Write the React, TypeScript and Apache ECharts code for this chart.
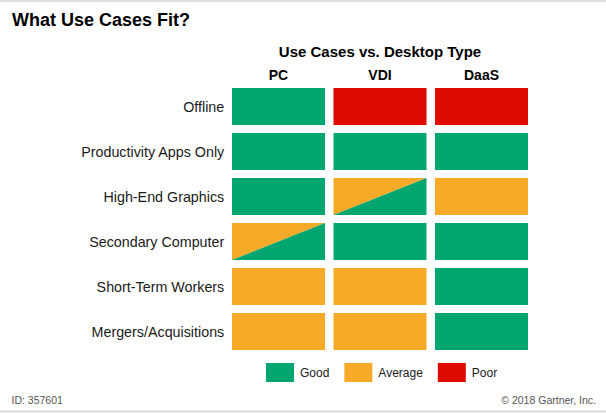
import React, { useEffect, useRef } from "react";
import * as echarts from "echarts";

// Desktop types (columns) and use cases (rows)
const desktopTypes = ["PC", "VDI", "DaaS"];
const useCases = [
  "Offline",
  "Productivity Apps Only",
  "High-End Graphics",
  "Secondary Computer",
  "Short-Term Workers",
  "Mergers/Acquisitions",
];

// Fit rating per use case, one list per desktop type ("Average/Good" = split cell)
const pcFit = ["Good", "Good", "Good", "Average/Good", "Average", "Average"];
const vdiFit = ["Poor", "Good", "Average/Good", "Good", "Average", "Average"];
const daasFit = ["Poor", "Good", "Average", "Good", "Good", "Good"];

const ratingLevels = ["Good", "Average", "Poor"];
const ratingColors: Record<string, string> = {
  Good: "#00a66f",
  Average: "#f6aa28",
  Poor: "#df0a00",
};

const FONT = "Arial, 'Liberation Sans', sans-serif";

export default function App() {
  const ref = useRef<HTMLDivElement>(null);

  useEffect(() => {
    if (!ref.current) return;
    const chart = echarts.init(ref.current, null, { renderer: "svg" });

    const fitByColumn = [pcFit, vdiFit, daasFit];
    const cells: { value: [number, number]; fit: string }[] = [];
    fitByColumn.forEach((col, c) => {
      col.forEach((fit, r) => cells.push({ value: [c, r], fit }));
    });

    const GAP_X = 8.5;
    const GAP_Y = 8;

    chart.setOption({
      animation: false,
      backgroundColor: "#ffffff",
      textStyle: { fontFamily: FONT },
      grid: { left: 227.75, top: 84, width: 304.5, height: 270 },
      xAxis: {
        type: "category",
        position: "top",
        data: desktopTypes,
        axisLine: { show: false },
        axisTick: { show: false },
        splitLine: { show: false },
        axisLabel: {
          margin: 9.5,
          verticalAlign: "middle",
          fontSize: 14,
          fontWeight: "bold",
          color: "#000",
        },
      },
      yAxis: {
        type: "category",
        inverse: true,
        data: useCases,
        axisLine: { show: false },
        axisTick: { show: false },
        splitLine: { show: false },
        axisLabel: { margin: 3.5, fontSize: 14.3, color: "#1a1a1a" },
      },
      legend: {
        left: 266,
        top: 363,
        padding: 0,
        itemWidth: 28,
        itemHeight: 19,
        itemGap: 15,
        icon: "rect",
        selectedMode: false,
        data: ratingLevels,
        textStyle: { fontSize: 12, color: "#1a1a1a", padding: [0, 0, 0, 1] },
      },
      graphic: [
        {
          type: "line",
          shape: { x1: 0, y1: 1, x2: 606, y2: 1 },
          style: { stroke: "#dcdcdc", lineWidth: 2 },
        },
        {
          type: "line",
          shape: { x1: 0, y1: 411.5, x2: 606, y2: 411.5 },
          style: { stroke: "#dcdcdc", lineWidth: 2 },
        },
        {
          type: "text",
          x: 12,
          y: 20,
          style: {
            text: "What Use Cases Fit?",
            font: `bold 18px ${FONT}`,
            fill: "#000",
            verticalAlign: "middle",
            align: "left",
          },
        },
        {
          type: "text",
          x: 380,
          y: 51,
          style: {
            text: "Use Cases vs. Desktop Type",
            font: `bold 15px ${FONT}`,
            fill: "#000",
            verticalAlign: "middle",
            align: "center",
          },
        },
        {
          type: "text",
          x: 11.5,
          y: 400,
          style: {
            text: "ID: 357601",
            font: `10.5px ${FONT}`,
            fill: "#555",
            verticalAlign: "middle",
            align: "left",
          },
        },
        {
          type: "text",
          x: 596,
          y: 400,
          style: {
            text: "© 2018 Gartner, Inc.",
            font: `10.5px ${FONT}`,
            fill: "#555",
            verticalAlign: "middle",
            align: "right",
          },
        },
      ],
      series: [
        {
          type: "custom",
          silent: true,
          data: cells,
          renderItem: (params: any, api: any) => {
            const center = api.coord([api.value(0), api.value(1)]);
            const pitch = api.size([1, 1]);
            const w = pitch[0] - GAP_X;
            const h = pitch[1] - GAP_Y;
            const x0 = center[0] - w / 2;
            const y0 = center[1] - h / 2;
            const x1 = x0 + w;
            const y1 = y0 + h;
            const fit = cells[params.dataIndex].fit;
            if (fit.indexOf("/") >= 0) {
              const [upper, lower] = fit.split("/");
              return {
                type: "group",
                children: [
                  {
                    type: "polygon",
                    shape: { points: [[x0, y0], [x1, y0], [x0, y1]] },
                    style: { fill: ratingColors[upper] },
                  },
                  {
                    type: "polygon",
                    shape: { points: [[x1, y0], [x1, y1], [x0, y1]] },
                    style: { fill: ratingColors[lower] },
                  },
                ],
              };
            }
            return {
              type: "rect",
              shape: { x: x0, y: y0, width: w, height: h },
              style: { fill: ratingColors[fit] },
            };
          },
        },
        // Legend entries
        ...ratingLevels.map((name) => ({
          name,
          type: "bar",
          data: [],
          itemStyle: { color: ratingColors[name] },
        })),
      ],
    });

    return () => chart.dispose();
  }, []);

  return (
    <div
      ref={ref}
      style={{ position: "fixed", left: 0, top: 0, width: 606, height: 414 }}
    />
  );
}
